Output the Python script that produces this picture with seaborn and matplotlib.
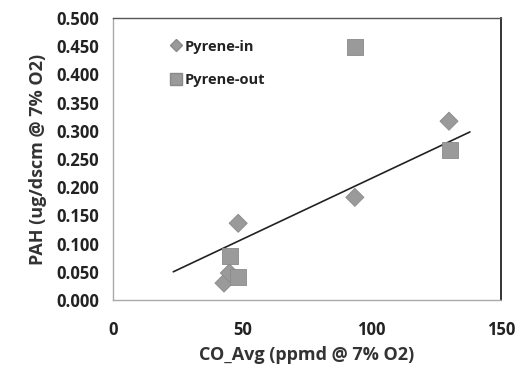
import matplotlib
matplotlib.use("Agg")
import matplotlib.pyplot as plt
import seaborn as sns
import pandas as pd
from matplotlib.lines import Line2D

# data
in_x = [42.9, 45.0, 48.4, 93.5, 129.9]
in_y = [0.030, 0.048, 0.136, 0.182, 0.317]
out_x = [45.2, 48.4, 93.5, 130.3]
out_y = [0.078, 0.041, 0.448, 0.266]
trend_x = [23.3, 138.0]
trend_y = [0.050, 0.298]
x_ticks = [0, 50, 100, 150]
y_ticks = [0.0, 0.05, 0.10, 0.15, 0.20, 0.25, 0.30, 0.35, 0.40, 0.45, 0.50]

df = pd.DataFrame({
    "x": in_x + out_x,
    "y": in_y + out_y,
    "series": ["Pyrene-in"] * len(in_x) + ["Pyrene-out"] * len(out_x),
})

sns.set_style("white")
plt.rcParams["font.family"] = ["Open Sans", "DejaVu Sans"]
plt.rcParams["font.weight"] = "bold"

fig = plt.figure(figsize=(5.26, 3.80), dpi=100)
ax = fig.add_axes([113 / 526, 1 - 300 / 380, 388 / 526, 282 / 380])

gray = "#9a9a9a"
sns.scatterplot(data=df, x="x", y="y", style="series",
                markers={"Pyrene-in": "D", "Pyrene-out": "s"},
                hue="series", palette={"Pyrene-in": gray, "Pyrene-out": gray},
                size="series", sizes={"Pyrene-in": 85, "Pyrene-out": 135},
                edgecolor="#8a8a8a", linewidth=0.6, ax=ax, legend=False, zorder=3)
sns.lineplot(x=trend_x, y=trend_y, color="#222222", linewidth=1.2, ax=ax, zorder=2)

ax.set_xlim(0, 150)
ax.set_ylim(0, 0.5)
ax.set_xticks(x_ticks)
ax.set_yticks(y_ticks)
ax.set_xticklabels([str(v) for v in x_ticks], fontsize=12, fontweight="bold", color="#222222")
ax.set_yticklabels([f"{v:.3f}" for v in y_ticks], fontsize=12, fontweight="bold", color="#222222")
ax.tick_params(axis="x", length=3, width=0.6, color="#aaaaaa", pad=12, direction="out")
ax.tick_params(axis="y", length=4, width=0.6, color="#aaaaaa", pad=6, direction="out")

ax.set_xlabel("CO_Avg (ppmd @ 7% O2)", fontsize=13, fontweight="bold", color="#333333", labelpad=5)
ax.set_ylabel("PAH (ug/dscm @ 7% O2)", fontsize=13, fontweight="bold", color="#333333", labelpad=7)

for side in ["left", "bottom"]:
    ax.spines[side].set_color("#aaaaaa")
    ax.spines[side].set_linestyle((0, (1, 1)))
    ax.spines[side].set_linewidth(1.0)
ax.spines["top"].set_color("#555555")
ax.spines["top"].set_linewidth(1.0)
ax.spines["right"].set_color("#111111")
ax.spines["right"].set_linewidth(1.2)

handles = [
    Line2D([], [], marker="D", linestyle="none", markersize=6, markerfacecolor=gray, markeredgecolor="#8a8a8a"),
    Line2D([], [], marker="s", linestyle="none", markersize=8, markerfacecolor=gray, markeredgecolor="#8a8a8a"),
]
leg = ax.legend(handles, ["Pyrene-in", "Pyrene-out"], loc="upper left",
                bbox_to_anchor=(0.115, 0.97), frameon=False, handlelength=0.7,
                handletextpad=0.25, labelspacing=1.35,
                prop={"size": 10.5, "weight": "bold", "family": ["Open Sans", "DejaVu Sans"]})
for t in leg.get_texts():
    t.set_color("#222222")

fig.savefig("out.png", dpi=100)
